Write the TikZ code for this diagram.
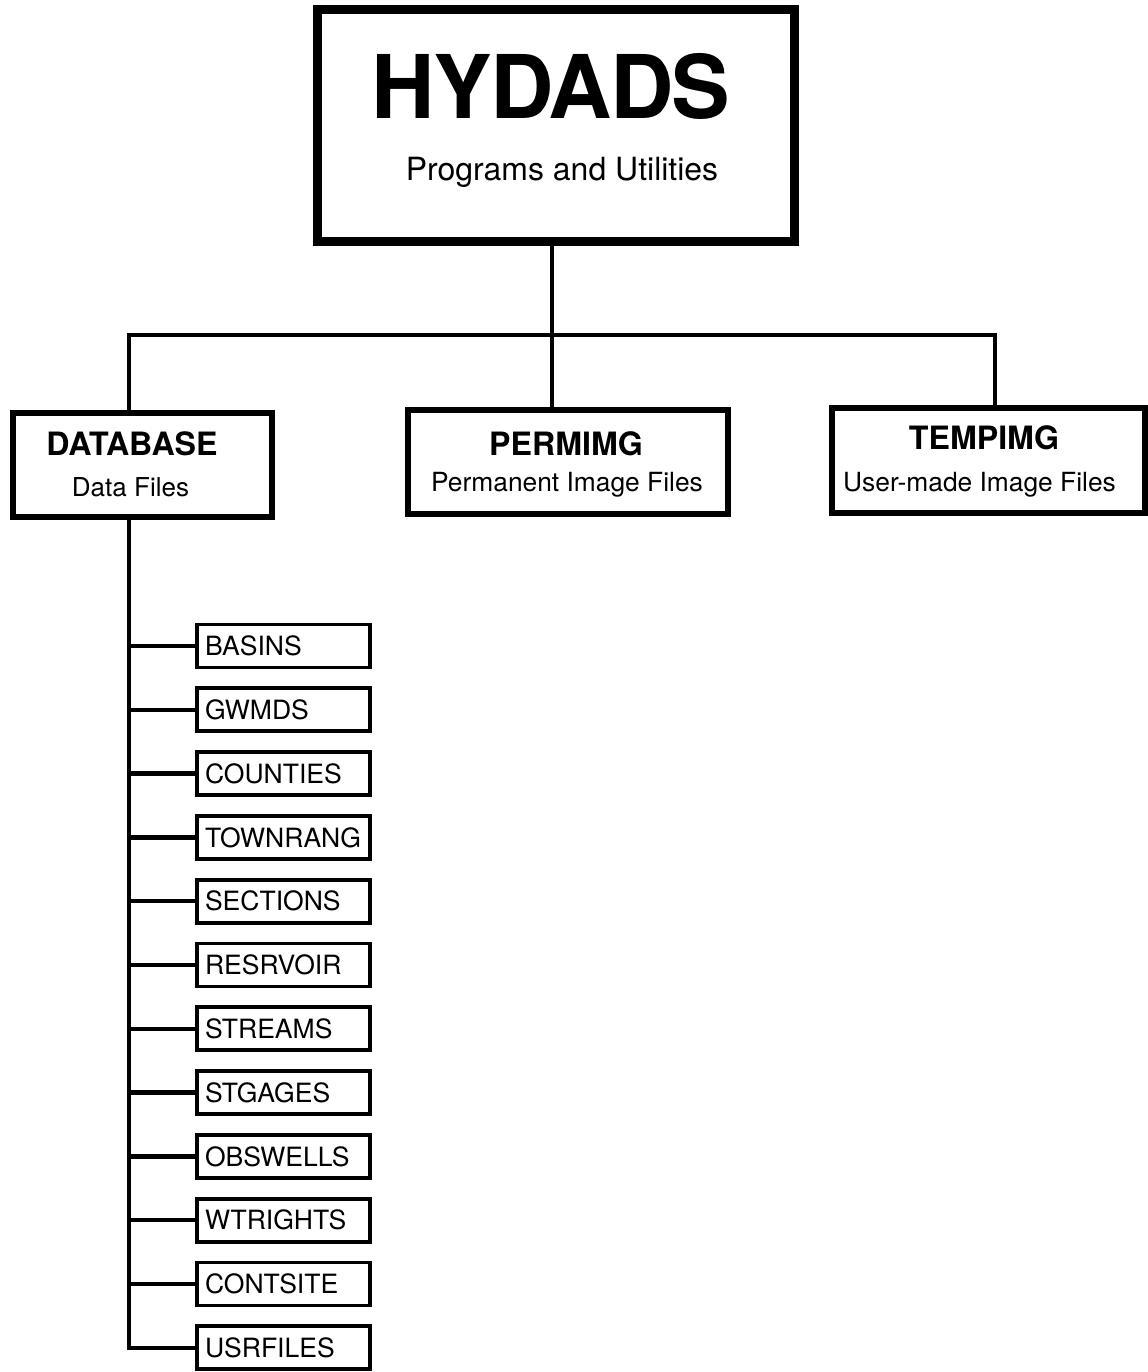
\documentclass[tikz,border=0pt]{standalone}
\usepackage{fontspec}
\setmainfont{TeX Gyre Heros}
\tikzset{
  topbox/.style   = {draw, line width=5.1pt, minimum width=9.55cm,
                     minimum height=4.63cm, inner sep=0pt},
  mainbox/.style  = {draw, line width=3.4pt, minimum width=#1,
                     minimum height=2.08cm, inner sep=0pt},
  leafbox/.style  = {draw, line width=2.2pt, text width=3.14cm, align=left,
                     inner xsep=0.16cm, minimum height=0.86cm,
                     text height=11pt, text depth=0pt,
                     font=\fontsize{15.1}{17}\selectfont},
  titlefont/.style = {anchor=base, inner sep=0pt,
                      font=\fontsize{50}{52}\selectfont\bfseries\addfontfeature{LetterSpace=-2.2}},
  namefont/.style  = {anchor=base, inner sep=0pt,
                      font=\fontsize{18.3}{20}\selectfont\bfseries},
  subfont/.style   = {anchor=base, inner sep=0pt,
                      font=\fontsize{#1}{17}\selectfont},
  link/.style      = {line width=2.5pt}
}
\begin{document}
\begin{tikzpicture}[line join=miter]
  \useasboundingbox (0,0) rectangle (22.96,-27.44);
  % programs box
  \node[topbox] (hyd) at (11.12,-2.51) {};
  \node[titlefont] (hydname) at (11.02,-2.36) {HYDADS};
  \node[subfont=18.2] (hydsub) at (11.24,-3.60) {Programs and Utilities};
  % file areas
  \node[mainbox=5.18cm] (db) at (2.85,-9.30) {};
  \node[namefont] (dbname) at (2.64,-9.10) {DATABASE};
  \node[subfont=14.8] (dbsub) at (2.61,-9.92) {Data Files};
  \node[mainbox=6.40cm] (perm) at (11.36,-9.24) {};
  \node[namefont] (permname) at (11.32,-9.10) {PERMIMG};
  \node[subfont=15] (permsub) at (11.34,-9.82) {Permanent Image Files};
  \node[mainbox=6.26cm, minimum height=2.10cm] (temp) at (19.77,-9.21) {};
  \node[namefont] (tempname) at (19.68,-8.98) {TEMPIMG};
  \node[subfont=15] (tempsub) at (19.59,-9.82) {User-made Image Files};
  % bus
  \coordinate (j1) at (2.58,-6.70);
  \coordinate (j2) at (11.04,-6.70);
  \coordinate (j3) at (19.90,-6.70);
  \draw[link] (j2 |- hyd.south) -- (j2 |- perm.north);
  \draw[link] (j1 |- db.north) -- (j1) -- (j3) -- (j3 |- temp.north);
  % database files
  \foreach \fname [count=\i] in {BASINS,GWMDS,COUNTIES,TOWNRANG,SECTIONS,
      RESRVOIR,STREAMS,STGAGES,OBSWELLS,WTRIGHTS,CONTSITE,USRFILES}
    \node[leafbox] (leaf\i) at (5.67,{-12.92-1.276*(\i-1)}) {\fname};
  \draw[link] (j1 |- db.south) |- (leaf12.west);
  \foreach \i in {1,...,11}
    \draw[link] (j1 |- leaf\i.west) -- (leaf\i.west);
\end{tikzpicture}
\end{document}
